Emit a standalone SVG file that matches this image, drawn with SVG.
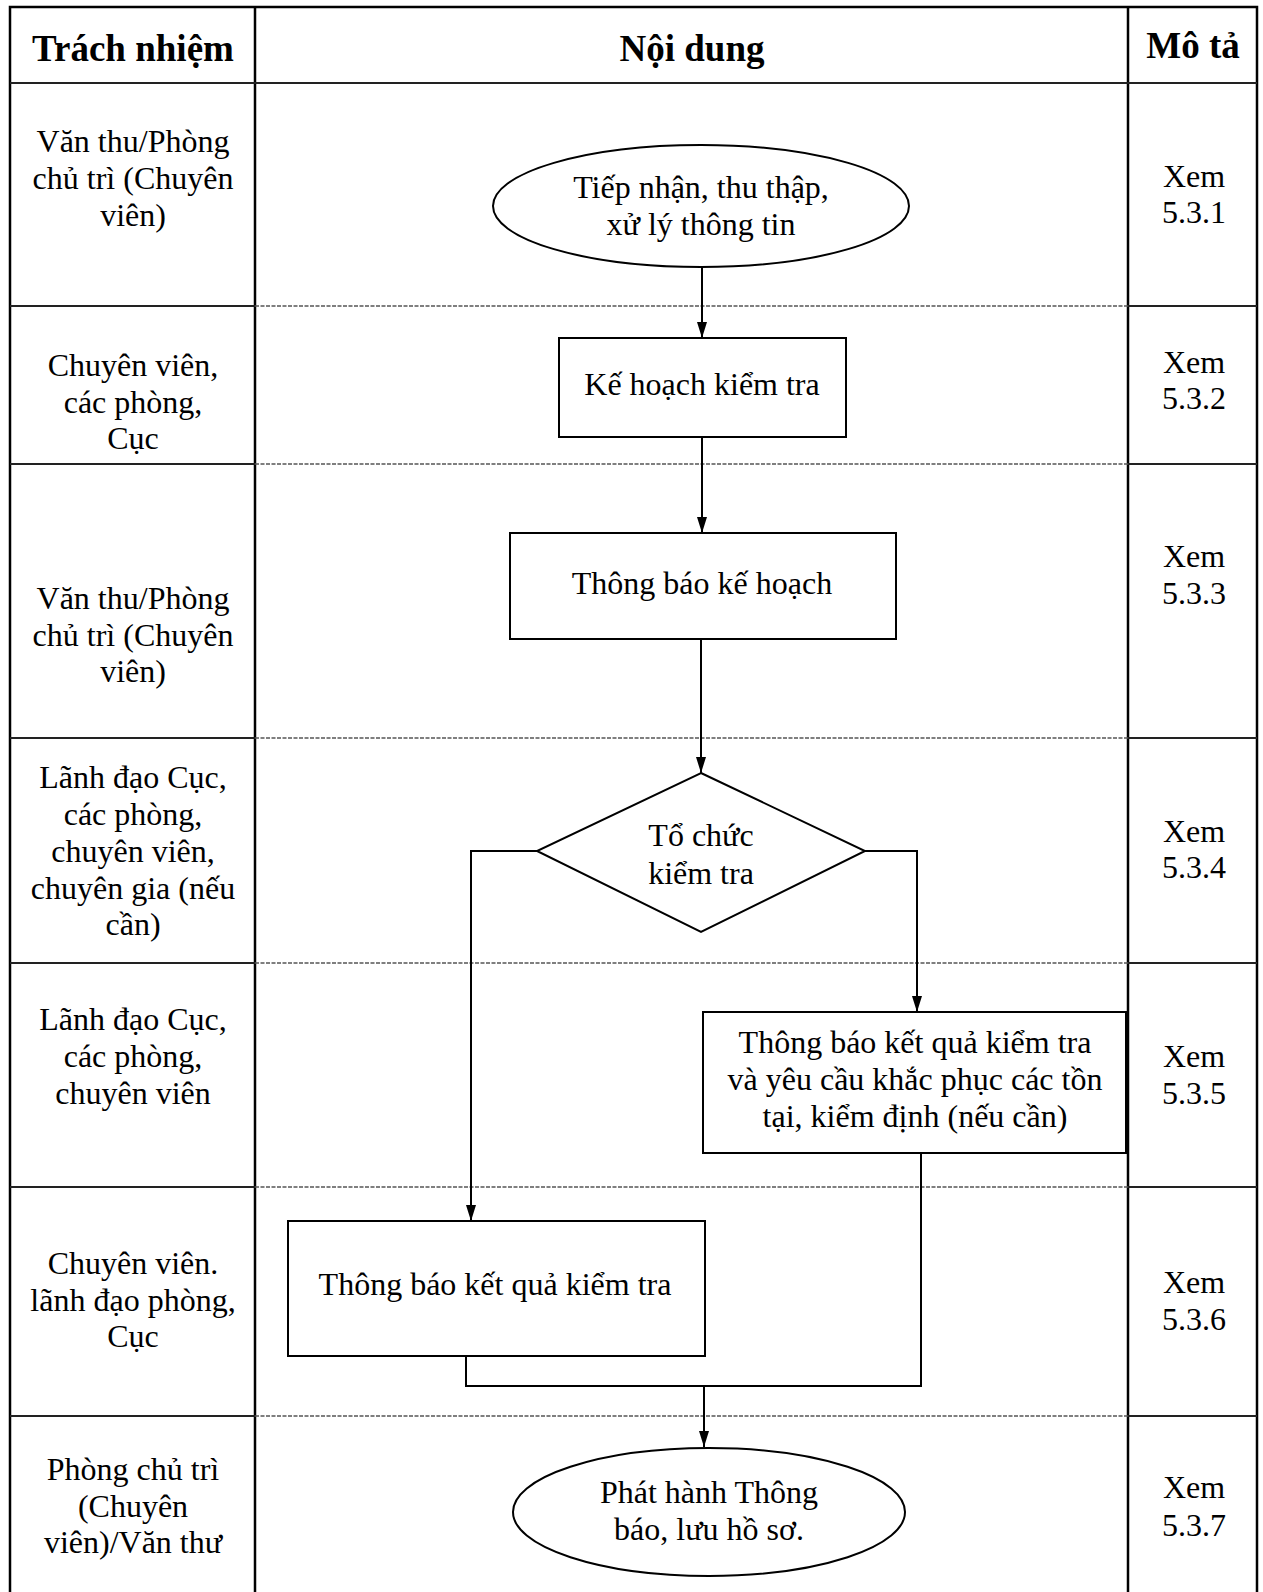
<svg xmlns="http://www.w3.org/2000/svg" width="1263" height="1592" viewBox="0 0 1263 1592">
<style>
.frame{stroke:#000;stroke-width:2.5;fill:none}
.row{stroke:#222;stroke-width:2;fill:none}
.rowmid{stroke:#555;stroke-width:1.5;stroke-dasharray:4 1.5;fill:none}
.shape{fill:#fff;stroke:#000;stroke-width:2}
.conn{fill:none;stroke:#000;stroke-width:2}
.h{font-family:"Liberation Serif","Times New Roman",serif;font-weight:bold;font-size:37px;text-anchor:middle;fill:#000}
.t{font-family:"Liberation Serif","Times New Roman",serif;font-size:32px;text-anchor:middle;fill:#000}
</style>
<defs>
<marker id="arr" viewBox="0 0 16 10" refX="16" refY="5" markerWidth="16" markerHeight="10" markerUnits="userSpaceOnUse" orient="auto">
<path d="M0,0 L16,5 L0,10 Z" fill="#000"/>
</marker>
</defs>
<rect width="1263" height="1592" fill="#fff"/>
<g id="table">
<path class="frame" d="M10,1592 V7 H1257 V1592 M255,7 V1592 M1128,7 V1592"/>
<path class="row" d="M10,83 H1257"/>
<path class="row" d="M10,306 H255 M1128,306 H1257 M10,464 H255 M1128,464 H1257 M10,738 H255 M1128,738 H1257 M10,963 H255 M1128,963 H1257 M10,1187 H255 M1128,1187 H1257 M10,1416 H255 M1128,1416 H1257"/>
<path class="rowmid" d="M255,306 H1128 M255,464 H1128 M255,738 H1128 M255,963 H1128 M255,1187 H1128 M255,1416 H1128"/>
<text class="h" x="133" y="61">Trách nhiệm</text>
<text class="h" x="692" y="61">Nội dung</text>
<text class="h" x="1193" y="58">Mô tả</text>
</g>
<g id="responsibility">
<text class="t" x="133" y="152">Văn thu/Phòng</text>
<text class="t" x="133" y="189">chủ trì (Chuyên</text>
<text class="t" x="133" y="226">viên)</text>
<text class="t" x="133" y="376">Chuyên viên,</text>
<text class="t" x="133" y="413">các phòng,</text>
<text class="t" x="133" y="449">Cục</text>
<text class="t" x="133" y="609">Văn thu/Phòng</text>
<text class="t" x="133" y="646">chủ trì (Chuyên</text>
<text class="t" x="133" y="682">viên)</text>
<text class="t" x="133" y="788">Lãnh đạo Cục,</text>
<text class="t" x="133" y="825">các phòng,</text>
<text class="t" x="133" y="862">chuyên viên,</text>
<text class="t" x="133" y="899">chuyên gia (nếu</text>
<text class="t" x="133" y="935">cần)</text>
<text class="t" x="133" y="1030">Lãnh đạo Cục,</text>
<text class="t" x="133" y="1067">các phòng,</text>
<text class="t" x="133" y="1104">chuyên viên</text>
<text class="t" x="133" y="1274">Chuyên viên.</text>
<text class="t" x="133" y="1311">lãnh đạo phòng,</text>
<text class="t" x="133" y="1347">Cục</text>
<text class="t" x="133" y="1480">Phòng chủ trì</text>
<text class="t" x="133" y="1517">(Chuyên</text>
<text class="t" x="133" y="1553">viên)/Văn thư</text>
</g>
<g id="description">
<text class="t" x="1194" y="187">Xem</text>
<text class="t" x="1194" y="223">5.3.1</text>
<text class="t" x="1194" y="373">Xem</text>
<text class="t" x="1194" y="409">5.3.2</text>
<text class="t" x="1194" y="567">Xem</text>
<text class="t" x="1194" y="604">5.3.3</text>
<text class="t" x="1194" y="842">Xem</text>
<text class="t" x="1194" y="878">5.3.4</text>
<text class="t" x="1194" y="1067">Xem</text>
<text class="t" x="1194" y="1104">5.3.5</text>
<text class="t" x="1194" y="1293">Xem</text>
<text class="t" x="1194" y="1330">5.3.6</text>
<text class="t" x="1194" y="1498">Xem</text>
<text class="t" x="1194" y="1536">5.3.7</text>
</g>
<g id="connectors">
<path class="conn" d="M702,267 V338" marker-end="url(#arr)"/>
<path class="conn" d="M702,437 V533" marker-end="url(#arr)"/>
<path class="conn" d="M701,639 V773" marker-end="url(#arr)"/>
<path class="conn" d="M537,851 H471 V1221" marker-end="url(#arr)"/>
<path class="conn" d="M865,851 H917 V1012" marker-end="url(#arr)"/>
<path class="conn" d="M466,1356 V1386 H921 V1153"/>
<path class="conn" d="M704,1386 V1447" marker-end="url(#arr)"/>
</g>
<g id="n1">
<ellipse class="shape" cx="701" cy="206" rx="208" ry="61"/>
<text class="t" x="701" y="198">Tiếp nhận, thu thập,</text>
<text class="t" x="701" y="235">xử lý thông tin</text>
</g>
<g id="n2">
<rect class="shape" x="559" y="338" width="287" height="99"/>
<text class="t" x="702" y="395">Kế hoạch kiểm tra</text>
</g>
<g id="n3">
<rect class="shape" x="510" y="533" width="386" height="106"/>
<text class="t" x="702" y="594">Thông báo kế hoạch</text>
</g>
<g id="n4">
<path class="shape" d="M701,773 L865,851 L701,932 L537,851 Z"/>
<text class="t" x="701" y="846">Tổ chức</text>
<text class="t" x="701" y="884">kiểm tra</text>
</g>
<g id="n5">
<rect class="shape" x="703" y="1012" width="423" height="141"/>
<text class="t" x="915" y="1053">Thông báo kết quả kiểm tra</text>
<text class="t" x="915" y="1090">và yêu cầu khắc phục các tồn</text>
<text class="t" x="915" y="1127">tại, kiểm định (nếu cần)</text>
</g>
<g id="n6">
<rect class="shape" x="288" y="1221" width="417" height="135"/>
<text class="t" x="495" y="1295">Thông báo kết quả kiểm tra</text>
</g>
<g id="n7">
<ellipse class="shape" cx="709" cy="1512" rx="196" ry="64"/>
<text class="t" x="709" y="1503">Phát hành Thông</text>
<text class="t" x="709" y="1540">báo, lưu hồ sơ.</text>
</g>
</svg>
